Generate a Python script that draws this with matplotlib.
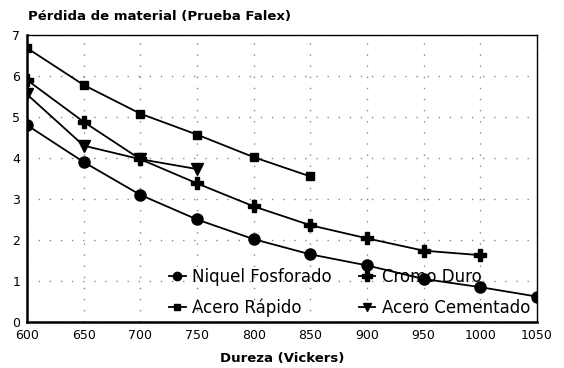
import numpy as np
import matplotlib
matplotlib.use("Agg")
import matplotlib.pyplot as plt

plt.rcParams['font.family'] = ['DejaVu Sans']

# datos
dureza = [600, 650, 700, 750, 800, 850, 900, 950, 1000, 1050]
niquel = [4.8, 3.9, 3.1, 2.5, 2.02, 1.65, 1.38, 1.05, 0.85, 0.62]

dureza_cromo = [600, 650, 700, 750, 800, 850, 900, 950, 1000]
cromo = [5.9, 4.88, 3.97, 3.38, 2.82, 2.36, 2.04, 1.74, 1.63]

dureza_rapido = [600, 650, 700, 750, 800, 850]
rapido = [6.68, 5.78, 5.08, 4.57, 4.02, 3.55]

dureza_cem = [600, 650, 700, 750]
cementado = [5.55, 4.3, 3.97, 3.73]

fig = plt.figure(figsize=(5.64, 3.68), dpi=100)
ax = fig.add_axes([0.048, 0.125, 0.904, 0.78])

l1, = ax.plot(dureza, niquel, 'k-', marker='o', ms=8, lw=1.3)
l2, = ax.plot(dureza_cromo, cromo, 'k-', marker='P', ms=9, lw=1.3)
l3, = ax.plot(dureza_rapido, rapido, 'k-', marker='s', ms=6, lw=1.3)
l4, = ax.plot(dureza_cem, cementado, 'k-', marker='v', ms=8, lw=1.3)

ax.set_xlim(600, 1050)
ax.set_ylim(0, 7)
ax.set_xticks(range(600, 1051, 50))
ax.set_yticks(range(0, 8))
ax.tick_params(length=0, labelsize=9, pad=5)
ax.grid(True, color='#888888', linestyle=(0, (1, 7)), linewidth=1.0)

for side in ['left', 'bottom']:
    ax.spines[side].set_linewidth(1.8)
for side in ['top', 'right']:
    ax.spines[side].set_linewidth(1.0)

fig.text(0.05, 0.945, 'Pérdida de material (Prueba Falex)', fontsize=9.5, fontweight='bold')
fig.text(0.5, 0.015, 'Dureza (Vickers)', fontsize=9.5, fontweight='bold', ha='center')

# orden por columnas para que quede: fila 1 Niquel / Cromo, fila 2 Rapido / Cementado
ax.legend([l1, l3, l2, l4],
          ['Niquel Fosforado', 'Acero Rápido', 'Cromo Duro', 'Acero Cementado'],
          loc='lower left', bbox_to_anchor=(0.249, -0.035), ncol=2, frameon=False,
          fontsize=12, handlelength=1.0, handletextpad=0.4, columnspacing=1.6,
          labelspacing=0.75, markerscale=0.75)

plt.savefig('out.png', dpi=100)
